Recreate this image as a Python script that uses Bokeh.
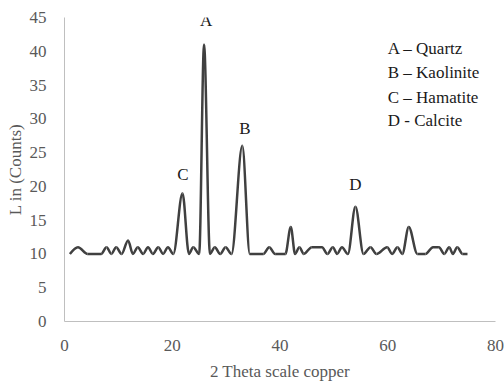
from bokeh.plotting import figure
from bokeh.models import Range1d, FixedTicker, ColumnDataSource, Label
from bokeh.embed import file_html
from bokeh.resources import INLINE

# ---- data ----
theta = [1, 2.5, 4.3, 6.8, 7.8, 8.7, 9.6, 10.6, 11.8, 12.7, 13.6, 14.6, 15.5, 16.4,
         17.4, 18.3, 19.2, 20.2, 21.9, 23.1, 23.9, 25, 25.9, 27, 27.9, 28.9, 29.9,
         31, 33, 34.4, 36.9, 38, 39.1, 41, 42, 42.8, 43.6, 44.4, 45.9, 47.8, 48.8,
         49.8, 50.6, 51.5, 52.6, 54, 55.5, 56.8, 57.9, 59.9, 60.8, 61.8, 62.7, 63.9,
         65.5, 67, 68.4, 69.5, 70.5, 71.4, 72.1, 72.9, 73.9, 74.8]
counts = [10, 11, 10, 10, 11, 10, 11, 10, 12, 10, 11, 10, 11, 10,
          11, 10, 11, 10, 19, 10, 11, 10, 41, 10, 11, 10, 11,
          10, 26, 10, 10, 11, 10, 10, 14, 10, 11, 10, 11, 11, 10,
          11, 10, 11, 10, 17, 10, 11, 10, 11, 10, 11, 10, 14,
          10, 10, 11, 11, 10, 11, 10, 11, 10, 10]

peak_letters = ["A", "B", "C", "D"]
peak_label_x = [26.3, 33.5, 22.0, 54.0]
peak_label_y = [44.6, 28.6, 21.7, 20.3]

legend_lines = ["A \u2013 Quartz", "B \u2013 Kaolinite", "C \u2013 Hamatite", "D - Calcite"]

x_ticks = [0, 20, 40, 60, 80]
y_ticks = [0, 5, 10, 15, 20, 25, 30, 35, 40, 45]

# ---- smooth (monotone) bezier segments, like a smoothed spreadsheet line ----
n = len(theta)
h = [theta[i + 1] - theta[i] for i in range(n - 1)]
s = [(counts[i + 1] - counts[i]) / h[i] for i in range(n - 1)]


def sign(v):
    return (v > 0) - (v < 0)


tang = [0.0] * n
for i in range(1, n - 1):
    s0, s1 = s[i - 1], s[i]
    p = (s0 * h[i] + s1 * h[i - 1]) / (h[i - 1] + h[i])
    tang[i] = (sign(s0) + sign(s1)) * min(abs(s0), abs(s1), 0.5 * abs(p))
tang[0] = (3 * s[0] - tang[1]) / 2 if n > 2 else s[0]
tang[-1] = (3 * s[-1] - tang[-2]) / 2 if n > 2 else s[-1]

seg = dict(x0=[], y0=[], x1=[], y1=[], cx0=[], cy0=[], cx1=[], cy1=[])
for i in range(n - 1):
    d = h[i] / 3
    seg["x0"].append(theta[i]); seg["y0"].append(counts[i])
    seg["x1"].append(theta[i + 1]); seg["y1"].append(counts[i + 1])
    seg["cx0"].append(theta[i] + d); seg["cy0"].append(counts[i] + tang[i] * d)
    seg["cx1"].append(theta[i + 1] - d); seg["cy1"].append(counts[i + 1] - tang[i + 1] * d)

p = figure(width=504, height=383, output_backend="svg", toolbar_location=None,
           x_range=Range1d(0, 80), y_range=Range1d(0, 45),
           min_border_left=64, min_border_right=9, min_border_top=17, min_border_bottom=62)
p.outline_line_color = None
p.background_fill_color = "white"
p.border_fill_color = "white"
p.xgrid.grid_line_color = None
p.ygrid.grid_line_color = None

p.bezier(x0="x0", y0="y0", x1="x1", y1="y1", cx0="cx0", cy0="cy0", cx1="cx1", cy1="cy1",
         source=ColumnDataSource(seg), line_color="#404040", line_width=2.5)

serif = "Liberation Serif"
for ax, ticks in ((p.xaxis, x_ticks), (p.yaxis, y_ticks)):
    ax.ticker = FixedTicker(ticks=ticks)
    ax.major_tick_line_color = None
    ax.minor_tick_line_color = None
    ax.axis_line_color = "#BFBFBF"
    ax.axis_line_width = 1
    ax.major_label_text_font = serif
    ax.major_label_text_font_size = "17px"
    ax.major_label_text_color = "#595959"
    ax.axis_label_text_font = serif
    ax.axis_label_text_font_size = "17px"
    ax.axis_label_text_color = "#595959"
    ax.axis_label_text_font_style = "normal"

p.xaxis.axis_label = "2 Theta scale copper"
p.yaxis.axis_label = "L in (Counts)"
p.xaxis.major_label_standoff = 12
p.yaxis.major_label_standoff = 12
p.xaxis.axis_label_standoff = 8
p.yaxis.axis_label_standoff = 2

for t, lx, ly in zip(peak_letters, peak_label_x, peak_label_y):
    p.add_layout(Label(x=lx, y=ly, text=t, text_font=serif, text_font_size="17px",
                       text_color="#1a1a1a", text_align="center", text_baseline="middle"))

legend_y = [40.4, 36.9, 33.2, 29.8]
for t, ly in zip(legend_lines, legend_y):
    p.add_layout(Label(x=60.0, y=ly, text=t, text_font=serif, text_font_size="17px",
                       text_color="#1a1a1a", text_align="left", text_baseline="middle"))

open("out.html", "w").write(file_html(p, INLINE))
